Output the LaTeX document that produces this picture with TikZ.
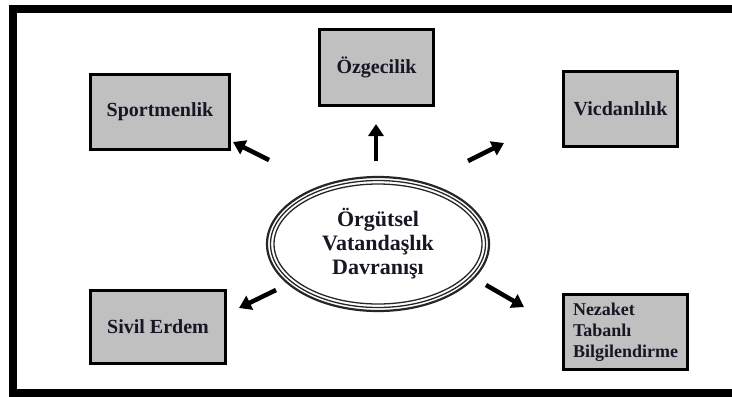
\documentclass[tikz,border=0pt]{standalone}
\usepackage{fontspec}
\setmainfont{Liberation Serif}
\usetikzlibrary{arrows.meta,shapes.geometric}

\definecolor{boxgray}{RGB}{192,192,192}
\definecolor{inkdark}{RGB}{22,22,36}

\begin{document}
\begin{tikzpicture}[x=1bp,y=-1bp,
  dimbox/.style={draw=black, line width=3bp, fill=boxgray, inner sep=0pt,
    text=inkdark, font=\bfseries\fontsize{20bp}{24bp}\selectfont},
  pointer/.style={line width=4.5bp, draw=black,
    -{Triangle[length=12bp,width=15bp]}},
  ring/.style={draw=black!85}
]
\useasboundingbox (0,0) rectangle (732,396);

% outer frame (left, top and bottom sides)
\draw[line width=8bp] (740,9) -- (13,9) -- (13,392.5) -- (740,392.5);

% central concept
\node[ellipse, minimum width=224bp, minimum height=136bp, inner sep=0pt,
      align=center, text=inkdark,
      font=\bfseries\fontsize{22bp}{24bp}\selectfont] (ovb) at (378,244)
  {Örgütsel\\Vatandaşlık\\Davranışı};
\draw[ring, line width=2.2bp] (ovb.center) ellipse [x radius=111, y radius=67];
\draw[ring, line width=1.3bp] (ovb.center) ellipse [x radius=107.5, y radius=63.5];
\draw[ring, line width=1.3bp] (ovb.center) ellipse [x radius=104, y radius=60];

% dimensions
\node[dimbox, minimum width=139bp, minimum height=75bp] (spor) at (160,112) {Sportmenlik};
\node[dimbox, minimum width=114bp, minimum height=76bp] (ozge) at (376.5,67.5) {Özgecilik};
\node[dimbox, minimum width=114bp, minimum height=75bp] (vicd) at (620.5,109) {Vicdanlılık};
\node[dimbox, minimum width=135bp, minimum height=73bp] (sivil) at (158,327) {Sivil Erdem};
\node[dimbox, minimum width=124bp, minimum height=75bp, align=left,
      font=\bfseries\fontsize{18bp}{21bp}\selectfont] (nezk) at (625.5,332)
  {\makebox[104bp][l]{Nezaket}\\Tabanlı\\Bilgilendirme};

% arrow ends
\coordinate (a1s) at (269,160); \coordinate (a1e) at (233,142);
\coordinate (a2s) at (376,161); \coordinate (a2e) at (376,124);
\coordinate (a3s) at (468,161); \coordinate (a3e) at (504,143);
\coordinate (a4s) at (276,290); \coordinate (a4e) at (239,308);
\coordinate (a5s) at (486,285); \coordinate (a5e) at (524,307);

\draw[pointer] (a1s) -- (a1e);
\draw[pointer] (a2s) -- (a2e);
\draw[pointer] (a3s) -- (a3e);
\draw[pointer] (a4s) -- (a4e);
\draw[pointer] (a5s) -- (a5e);
\end{tikzpicture}
\end{document}
